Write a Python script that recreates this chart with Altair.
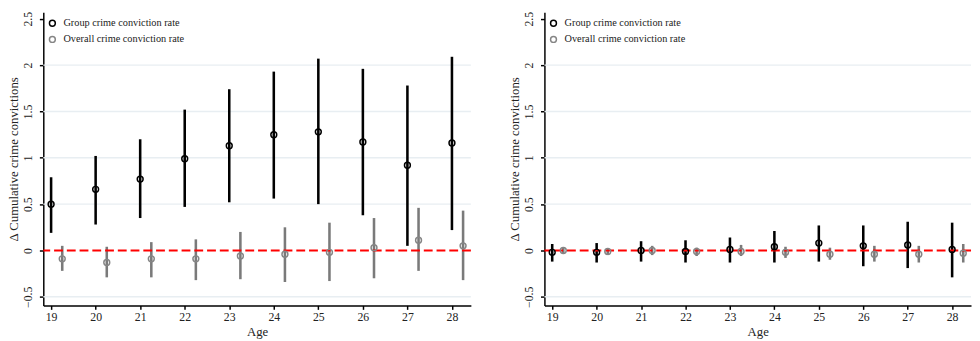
import altair as alt
import pandas as pd

ages = list(range(19, 29))
series_names = ["Group crime conviction rate", "Overall crime conviction rate"]

# Left panel
g1_est = [0.50, 0.66, 0.77, 0.99, 1.13, 1.25, 1.28, 1.17, 0.92, 1.16]
g1_lo = [0.19, 0.28, 0.35, 0.47, 0.52, 0.56, 0.50, 0.38, 0.05, 0.22]
g1_hi = [0.79, 1.02, 1.20, 1.52, 1.74, 1.93, 2.07, 1.96, 1.78, 2.09]
o1_est = [-0.09, -0.13, -0.09, -0.09, -0.06, -0.04, -0.02, 0.03, 0.11, 0.05]
o1_lo = [-0.22, -0.29, -0.29, -0.32, -0.31, -0.34, -0.33, -0.30, -0.22, -0.32]
o1_hi = [0.05, 0.04, 0.09, 0.12, 0.20, 0.25, 0.30, 0.35, 0.46, 0.43]

# Right panel
g2_est = [-0.02, -0.02, 0.00, -0.01, 0.01, 0.04, 0.08, 0.05, 0.06, 0.01]
g2_lo = [-0.12, -0.13, -0.12, -0.13, -0.13, -0.13, -0.12, -0.17, -0.19, -0.29]
g2_hi = [0.07, 0.08, 0.10, 0.11, 0.14, 0.21, 0.27, 0.27, 0.31, 0.30]
o2_est = [0.00, -0.01, 0.00, -0.01, -0.01, -0.02, -0.04, -0.04, -0.04, -0.03]
o2_lo = [-0.03, -0.05, -0.05, -0.06, -0.06, -0.08, -0.10, -0.12, -0.13, -0.13]
o2_hi = [0.03, 0.02, 0.05, 0.03, 0.06, 0.04, 0.03, 0.05, 0.05, 0.07]

y_ticks = [-0.5, 0, 0.5, 1, 1.5, 2, 2.5]
grid_values = [-0.5, 0.5, 1, 1.5, 2]
zero_value = [0]
overall_offset = 0.25

SERIF = "Liberation Serif"
GRAY = "#858585"


def make_df(g_est, g_lo, g_hi, o_est, o_lo, o_hi):
    rows = []
    for i, a in enumerate(ages):
        rows.append({"xpos": a, "est": g_est[i], "lo": g_lo[i], "hi": g_hi[i], "series": series_names[0]})
        rows.append({"xpos": a + overall_offset, "est": o_est[i], "lo": o_lo[i], "hi": o_hi[i], "series": series_names[1]})
    return pd.DataFrame(rows)


def panel(df, width):
    xscale = alt.Scale(domain=[18.825, 28.425], nice=False, zero=False)
    yscale = alt.Scale(domain=[-0.593, 2.571], nice=False, zero=False)
    xaxis = alt.Axis(values=ages, title="Age", grid=False, format="d")
    yaxis = alt.Axis(
        values=y_ticks,
        title="Δ Cumulative crime convictions",
        grid=False,
        labelAngle=270,
        labelExpr="replace(toString(datum.value), '-', '−')",
    )

    grid = alt.Chart(pd.DataFrame({"v": grid_values})).mark_rule(
        color="#e8eef2", strokeWidth=1.5
    ).encode(y=alt.Y("v:Q", scale=yscale, axis=yaxis))

    base = alt.Chart(df)
    bars = base.mark_rule(strokeWidth=2.6).encode(
        x=alt.X("xpos:Q", scale=xscale, axis=xaxis),
        y=alt.Y("lo:Q", scale=yscale, axis=yaxis),
        y2="hi:Q",
        color=alt.condition(
            alt.datum.series == series_names[0], alt.value("black"), alt.value("#7a7a7a")
        ),
    )

    zero = alt.Chart(pd.DataFrame({"v": zero_value})).mark_rule(
        color="#ff0000", strokeWidth=2, strokeDash=[9, 4]
    ).encode(y=alt.Y("v:Q", scale=yscale, axis=yaxis))

    points = base.mark_point(filled=False, size=36, strokeWidth=1.5, opacity=1).encode(
        x=alt.X("xpos:Q", scale=xscale, axis=xaxis),
        y=alt.Y("est:Q", scale=yscale, axis=yaxis),
        color=alt.Color(
            "series:N",
            scale=alt.Scale(domain=series_names, range=["black", GRAY]),
            legend=alt.Legend(
                title=None,
                orient="none",
                legendX=4,
                legendY=6,
                labelFont=SERIF,
                labelFontSize=10.5,
                labelColor="#222222",
                symbolType="circle",
                symbolSize=36,
                symbolStrokeWidth=1.5,
                rowPadding=3.5,
                labelOffset=6,
            ),
        ),
    )

    return alt.layer(grid, bars, zero, points).properties(width=width, height=299)


left = panel(make_df(g1_est, g1_lo, g1_hi, o1_est, o1_lo, o1_hi), 436)
right = panel(make_df(g2_est, g2_lo, g2_hi, o2_est, o2_lo, o2_hi), 435)

chart = (
    alt.hconcat(left, right, spacing=38)
    .resolve_scale(color="independent")
    .properties(padding=0, background="white")
    .configure_view(stroke=None)
    .configure_axis(
        domainColor="black",
        domainWidth=1.5,
        tickColor="black",
        tickWidth=1.5,
        tickSize=4,
        labelFont=SERIF,
        labelFontSize=12,
        labelColor="#222222",
        titleFont=SERIF,
        titleFontSize=13,
        titleFontWeight="normal",
        titleColor="#222222",
    )
    .configure_axisX(titlePadding=4, labelPadding=2)
    .configure_axisY(titlePadding=1, labelPadding=5)
)

chart.save("out.html", embed_options={"renderer": "svg", "actions": False})
